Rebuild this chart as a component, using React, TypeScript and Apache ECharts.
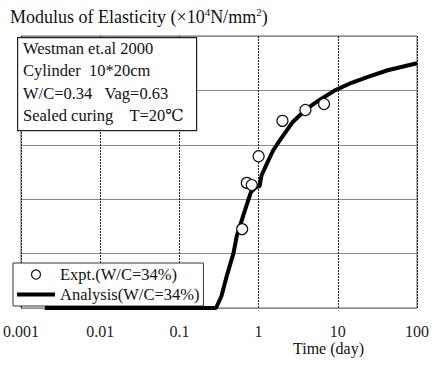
import React, { useEffect, useRef } from "react";
import * as echarts from "echarts";

const curveT = [0.002, 0.29, 0.34, 0.4, 0.48, 0.53, 0.65, 0.8, 0.92, 1.03, 1.09, 1.26, 1.53, 1.87, 2.7, 3.9, 5.8, 9.2, 14.9, 24, 42.6, 100];
const curveE = [0, 0, 0.22, 0.61, 1.0, 1.32, 1.73, 2.13, 2.22, 2.24, 2.44, 2.64, 2.9, 3.09, 3.42, 3.64, 3.82, 4.0, 4.14, 4.25, 4.37, 4.5];
const exptT = [0.62, 0.71, 0.82, 1.0, 2.0, 3.9, 6.7];
const exptE = [1.45, 2.3, 2.26, 2.79, 3.44, 3.64, 3.75];
const xTickLabels: Record<string, string> = { "0.001": "0.001", "0.01": "0.01", "0.1": "0.1", "1": "1", "10": "10", "100": "100" };
const infoLines = ["Westman et.al 2000", "Cylinder  10*20cm", "W/C=0.34   Vag=0.63", "Sealed curing    T=20\u2103"];
const seriesNames = ["Expt.(W/C=34%)", "Analysis(W/C=34%)"];

const FONT = "'Liberation Serif', 'DejaVu Serif', serif";

export default function App() {
  const ref = useRef<HTMLDivElement>(null);
  useEffect(() => {
    if (!ref.current) return;
    const chart = echarts.init(ref.current, undefined, { renderer: "svg" });
    chart.setOption({
      animation: false,
      backgroundColor: "#fff",
      textStyle: { fontFamily: FONT, color: "#111" },
      title: {
        left: 5,
        top: 1,
        text: "Modulus of Elasticity (\u00d710{sup|4}N/mm{sup|2})",
        textStyle: {
          fontFamily: FONT,
          fontSize: 18,
          fontWeight: "normal",
          color: "#111",
          rich: {
            sup: { fontFamily: FONT, fontSize: 11, color: "#111", padding: [0, 0, 10, 0] },
          },
        },
      },
      grid: { left: 13, right: 21, top: 36, bottom: 57, show: true, borderColor: "#666", borderWidth: 1, backgroundColor: "transparent" },
      xAxis: {
        type: "log",
        logBase: 10,
        min: 0.001,
        max: 100,
        axisLine: { show: false },
        axisTick: { show: false },
        minorTick: { show: false },
        axisLabel: {
          fontFamily: FONT,
          fontSize: 16,
          color: "#222",
          margin: 15,
          formatter: (v: number) => {
            const k = String(Number(v.toPrecision(3)));
            return xTickLabels[k] ?? k;
          },
        },
        splitLine: { show: true, lineStyle: { color: "#222", width: 1, type: [2, 1] } },
      },
      yAxis: {
        type: "value",
        min: 0,
        max: 5,
        interval: 1,
        axisLabel: { show: false },
        axisTick: { show: false },
        axisLine: { show: false },
        splitLine: { show: true, lineStyle: { color: "#8a8a8a", width: 1.2 } },
      },
      legend: {
        orient: "vertical",
        left: 13,
        top: 263,
        padding: [3, 4, 3, 4],
        itemGap: 3,
        itemWidth: 38,
        itemHeight: 9,
        borderColor: "#333",
        borderWidth: 1,
        backgroundColor: "#fff",
        textStyle: { fontFamily: FONT, fontSize: 16.5, color: "#111" },
        data: [
          { name: seriesNames[0], icon: "circle", itemStyle: { color: "#fff", borderColor: "#111", borderWidth: 1.2 } },
          { name: seriesNames[1], icon: "path://M0 0 H40 V4 H0 Z", itemStyle: { color: "#000" } },
        ],
      },
      graphic: [
        {
          type: "rect",
          left: 17,
          top: 37,
          shape: { width: 179, height: 93 },
          style: { fill: "#fff", stroke: "#222", lineWidth: 1.2 },
          z: 100,
        },
        ...infoLines.map((t, i) => ({
          type: "text",
          left: 23,
          top: 40 + i * 22.3,
          style: { text: t, font: `16.5px ${FONT}`, fill: "#111" },
          z: 101,
        })),
        {
          type: "text",
          left: 293,
          top: 340,
          style: { text: "Time (day)", font: `16px ${FONT}`, fill: "#111" },
          z: 101,
        },
      ],
      series: [
        {
          name: seriesNames[0],
          type: "scatter",
          symbol: "circle",
          symbolSize: 11,
          itemStyle: { color: "#fff", borderColor: "#111", borderWidth: 1.2, opacity: 1 },
          emphasis: { disabled: true },
          data: exptT.map((t, i) => [t, exptE[i]]),
          z: 5,
        },
        {
          name: seriesNames[1],
          type: "line",
          symbol: "none",
          showSymbol: false,
          lineStyle: { color: "#000", width: 4 },
          itemStyle: { color: "#000" },
          data: curveT.map((t, i) => [t, curveE[i]]),
          z: 4,
        },
      ],
    });
    return () => chart.dispose();
  }, []);
  return <div ref={ref} style={{ width: 438, height: 365, position: "absolute", left: 0, top: 0 }} />;
}
